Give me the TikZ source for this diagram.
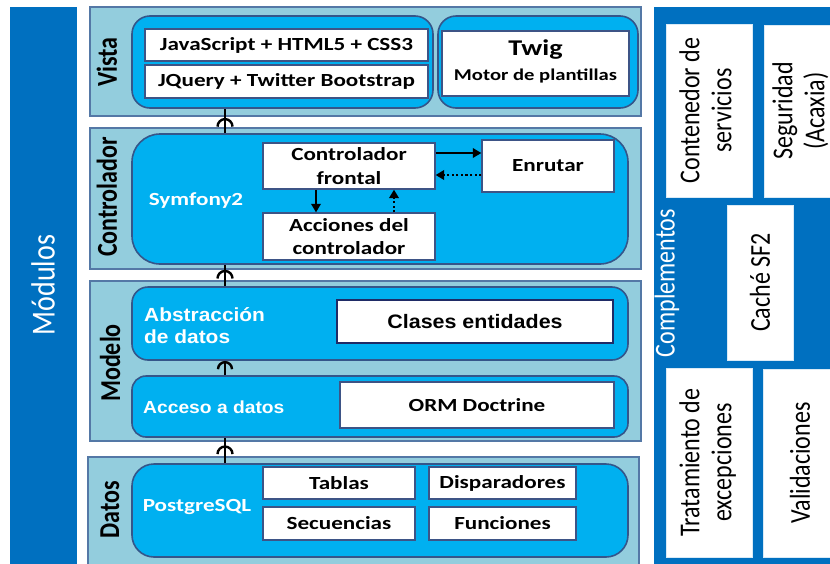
\documentclass[tikz,border=0pt]{standalone}
\usepackage{fontspec}
\usepackage{graphicx}
\setmainfont{Carlito}
\newfontfamily\calw{Carlito}[FakeStretch=1.25]
\newfontfamily\ariw{Liberation Sans}[FakeStretch=1.1]
\usetikzlibrary{arrows.meta,calc}
\definecolor{dkblue}{HTML}{0070C0}
\definecolor{panelfill}{HTML}{93CDDD}
\definecolor{panelline}{HTML}{5478A6}
\definecolor{innerfill}{HTML}{00B0F0}
\definecolor{innerline}{HTML}{34568A}
\definecolor{wline}{HTML}{3D5486}
\definecolor{clsline}{HTML}{1F2B66}
\newcommand{\xs}[1]{\scalebox{1}[1.2]{#1}}
\begin{document}
\begin{tikzpicture}[x=1pt,y=-1pt,
  panel/.style={draw=panelline, fill=panelfill, line width=1.3pt, inner sep=0pt},
  inbox/.style={draw=innerline, fill=innerfill, line width=1.6pt, rounded corners=18pt, inner sep=0pt},
  wbox/.style={draw=wline, fill=white, line width=1.3pt, inner sep=0pt, align=center,
    font=\calw\bfseries\fontsize{18.5}{23.5}\selectfont},
  sidebox/.style={fill=white, draw=white!85!dkblue, line width=0.8pt, inner sep=0pt, rotate=90,
    align=center, font=\fontsize{24}{26.5}\selectfont},
  layerlbl/.style={rotate=90, inner sep=0pt, font=\bfseries\fontsize{24}{28}\selectfont},
  wtxt/.style={text=white, inner sep=0pt, font=\calw\bfseries\fontsize{18.5}{22}\selectfont},
  atxt/.style={text=white, inner sep=0pt, align=left, anchor=west},
  hop/.style={line width=2.4pt, black},
  flow/.style={line width=1.8pt, -{Triangle[length=8.5pt,width=9.5pt]}},
  dflow/.style={line width=2.2pt, dash pattern=on 2.2pt off 2.4pt, -{Triangle[length=8.5pt,width=9.5pt]}}
]
\clip (0,0) rectangle (830,563);
\fill[white] (0,0) rectangle (830,563);

% left column
\node[fill=dkblue, minimum width=67pt, minimum height=563pt, inner sep=0pt] (modcol) at (43.5,288.5) {};
\node[rotate=90, text=white, inner sep=0pt, font=\fontsize{28}{30}\selectfont] (modtxt) at (43,285) {\xs{Módulos}};

% right column
\node[fill=dkblue, minimum width=186pt, minimum height=563pt, inner sep=0pt] (compcol) at (747,288.5) {};
\node[rotate=90, text=white, inner sep=0pt, font=\fontsize{24}{26}\selectfont] (comptxt) at (667,283) {\xs{Complementos}};
\node[sidebox, minimum width=173pt, minimum height=86pt] (cont) at (709,110.5)
  {\xs{\begin{tabular}{@{}c@{}}Contenedor de\\servicios\end{tabular}}};
\node[sidebox, minimum width=172pt, minimum height=76pt] (segu) at (802,111)
  {\xs{\begin{tabular}{@{}c@{}}Seguridad\\(Acaxia)\end{tabular}}};
\node[sidebox, minimum width=155pt, minimum height=66pt] (cache) at (760,282.5)
  {\xs{Caché SF2}};
\node[sidebox, minimum width=189pt, minimum height=86pt] (trat) at (709,462.5)
  {\xs{\begin{tabular}{@{}c@{}}Tratamiento de\\excepciones\end{tabular}}};
\node[sidebox, minimum width=188pt, minimum height=74pt] (valid) at (800,463)
  {\xs{Validaciones}};

% layer panels
\node[panel, minimum width=551pt, minimum height=109pt] (pVista) at (365.5,61.5) {};
\node[panel, minimum width=551pt, minimum height=141pt] (pCtrl) at (365.5,198.5) {};
\node[panel, minimum width=551pt, minimum height=160pt] (pModelo) at (365.5,361) {};
\node[panel, minimum width=551pt, minimum height=118pt] (pDatos) at (363.5,516) {};

\node[layerlbl] (lVista) at (107,62) {\xs{Vista}};
\node[layerlbl] (lCtrl) at (107,197) {\xs{Controlador}};
\node[layerlbl] (lModelo) at (110,363) {\xs{Modelo}};
\node[layerlbl] (lDatos) at (110,510) {\xs{Datos}};

% inner rounded boxes
\node[inbox, minimum width=301pt, minimum height=92pt] (iVistaL) at (282.5,62) {};
\node[inbox, minimum width=200pt, minimum height=92pt] (iVistaR) at (538,62) {};
\node[inbox, rounded corners=28pt, minimum width=496pt, minimum height=130pt] (iCtrl) at (380,199) {};
\node[inbox, rounded corners=16pt, minimum width=496pt, minimum height=73pt] (iAbs) at (380,323.5) {};
\node[inbox, rounded corners=14pt, minimum width=496pt, minimum height=61pt] (iAcc) at (380,406.5) {};
\node[inbox, rounded corners=22pt, minimum width=496pt, minimum height=93pt] (iDatos) at (380,510.5) {};

% Vista content
\node[wbox, minimum width=283pt, minimum height=32pt] (js) at (286.5,45) {JavaScript + HTML5 + CSS3};
\node[wbox, minimum width=283pt, minimum height=33pt] (jq) at (286.5,81.5) {JQuery + Twitter Bootstrap};
\node[wbox, minimum width=187pt, minimum height=65pt] (twig) at (535.5,63.5)
  {\begin{tabular}{@{}c@{}}{\fontsize{22.5}{24}\selectfont Twig}\\[1.5pt]{\fontsize{16.5}{19}\selectfont Motor de plantillas}\end{tabular}};

% Controlador content
\node[wtxt] (sym) at (196,201) {Symfony2};
\node[wbox, minimum width=172pt, minimum height=46pt] (frontal) at (349,166) {Controlador\\frontal};
\node[wbox, minimum width=172pt, minimum height=47pt] (acciones) at (349,236.5) {Acciones del\\controlador};
\node[wbox, minimum width=132pt, minimum height=52pt] (enrutar) at (548,166) {\raisebox{-1.5pt}{Enrutar}};
\coordinate (ya) at (0,153);
\coordinate (yb) at (0,175);
\coordinate (xa) at (316,0);
\coordinate (xb) at (394,0);
\draw[flow] (frontal.east |- ya) -- (enrutar.west |- ya);
\draw[dflow] (enrutar.west |- yb) -- (frontal.east |- yb);
\draw[flow] (frontal.south -| xa) -- (acciones.north -| xa);
\draw[dflow] (acciones.north -| xb) -- (frontal.south -| xb);

% Modelo content
\node[atxt, font=\ariw\bfseries\fontsize{19}{22}\selectfont] (abst) at (144,326) {Abstracción\\de datos};
\node[wbox, draw=clsline, line width=2.4pt, minimum width=276pt, minimum height=43pt,
  font=\ariw\bfseries\fontsize{19.5}{22}\selectfont] (clases) at (475,321.5) {Clases entidades};
\node[atxt, font=\ariw\bfseries\fontsize{17.5}{20}\selectfont] (acc) at (143,407) {Acceso a datos};
\node[wbox, minimum width=274pt, minimum height=46pt] (orm) at (477,405) {ORM Doctrine};

% Datos content
\node[wtxt] (pg) at (197,507) {PostgreSQL};
\node[wbox, minimum width=152pt, minimum height=32pt] (tablas) at (339,483) {Tablas};
\node[wbox, minimum width=152pt, minimum height=33pt] (secu) at (339,523.5) {Secuencias};
\node[wbox, minimum width=147pt, minimum height=32pt] (disp) at (502.5,483) {Disparadores};
\node[wbox, minimum width=147pt, minimum height=33pt] (func) at (502.5,523.5) {Funciones};

% connectors between layers (with hop)
\coordinate (hx) at (225,0);
\draw[hop] (iCtrl.north -| hx) -- (iVistaL.south -| hx);
\draw[hop] ($(iCtrl.north -| hx)!0.27!(iVistaL.south -| hx)$) ++(-7.5pt,0) arc[start angle=180,end angle=0,radius=7.5pt];
\draw[hop] (iAbs.north -| hx) -- (iCtrl.south -| hx);
\draw[hop] ($(iAbs.north -| hx)!0.36!(iCtrl.south -| hx)$) ++(-7.5pt,0) arc[start angle=180,end angle=0,radius=7.5pt];
\draw[hop] (iAcc.north -| hx) -- (iAbs.south -| hx);
\draw[hop] ($(iAcc.north -| hx)!0.42!(iAbs.south -| hx)$) ++(-7pt,0) arc[start angle=180,end angle=0,radius=7pt];
\draw[hop] (iDatos.north -| hx) -- (iAcc.south -| hx);
\draw[hop] ($(iDatos.north -| hx)!0.36!(iAcc.south -| hx)$) ++(-7.5pt,0) arc[start angle=180,end angle=0,radius=7.5pt];
\end{tikzpicture}
\end{document}
